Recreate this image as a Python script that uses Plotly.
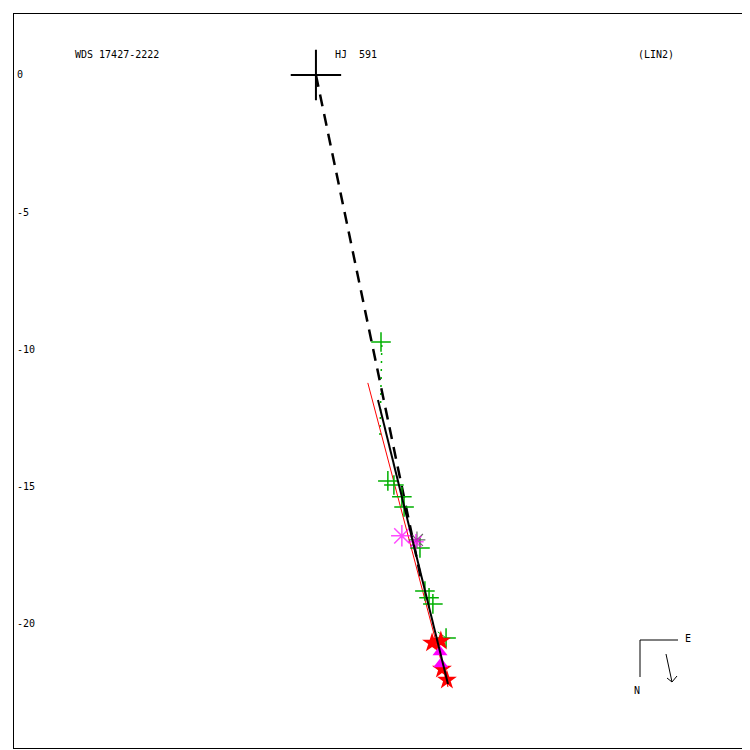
import plotly.graph_objects as go

# --- data (arcsec) ---
primary_x = [0.0]
primary_y = [0.0]

plus_x = [2.37, 2.62, 2.84, 3.13, 3.21, 3.79, 3.97, 4.12, 4.26, 4.74]
plus_y = [-9.73, -14.79, -14.94, -15.37, -15.74, -17.23, -18.80, -19.05, -19.27, -20.51]

ast_mag_x = [3.13, 3.64]
ast_mag_y = [-16.79, -17.01]
ast_grey_x = [3.68]
ast_grey_y = [-16.94]

star_x = [4.23, 4.55, 4.59, 4.77]
star_y = [-20.69, -20.62, -21.64, -22.04]

tri_x = [4.52, 4.55]
tri_y = [-21.02, -21.46]

fit_x = [2.26, 4.81]
fit_y = [-11.84, -22.19]
red_x = [1.89, 4.81]
red_y = [-11.22, -22.30]
dash_x = [0.0, 3.83]
dash_y = [0.0, -18.36]
res1_x = [2.40, 2.33]
res1_y = [-9.84, -13.30]
res2_x = [4.44, 4.74]
res2_y = [-20.29, -20.51]

yticks = [0, -5, -10, -15, -20]
ytick_labels = ["0", "-5", "-10", "-15", "-20"]

fig = go.Figure()
fig.add_trace(go.Scatter(x=res1_x, y=res1_y, mode="lines",
                         line=dict(color="#00b000", width=1.5, dash="2px,6px")))
fig.add_trace(go.Scatter(x=res2_x, y=res2_y, mode="lines",
                         line=dict(color="#00b000", width=1)))
fig.add_trace(go.Scatter(x=red_x, y=red_y, mode="lines",
                         line=dict(color="red", width=1)))
fig.add_trace(go.Scatter(x=dash_x, y=dash_y, mode="lines",
                         line=dict(color="black", width=2.5, dash="12px,8px")))
fig.add_trace(go.Scatter(x=plus_x, y=plus_y, mode="markers",
                         marker=dict(symbol="cross-thin", size=14,
                                     line=dict(color="#00b000", width=1.5))))
fig.add_trace(go.Scatter(x=ast_grey_x, y=ast_grey_y, mode="markers",
                         marker=dict(symbol="asterisk", size=14,
                                     line=dict(color="#666666", width=1.2))))
fig.add_trace(go.Scatter(x=ast_mag_x, y=ast_mag_y, mode="markers",
                         marker=dict(symbol="asterisk", size=[18, 13],
                                     line=dict(color="#ff00ff", width=1.5))))
fig.add_trace(go.Scatter(x=star_x, y=star_y, mode="markers",
                         marker=dict(symbol="star", size=15, color="red",
                                     line=dict(width=0))))
fig.add_trace(go.Scatter(x=tri_x, y=tri_y, mode="markers",
                         marker=dict(symbol="triangle-up", size=13, color="#ff00ff",
                                     line=dict(width=0))))
fig.add_trace(go.Scatter(x=fit_x, y=fit_y, mode="lines",
                         line=dict(color="black", width=2)))
fig.add_trace(go.Scatter(x=primary_x, y=primary_y, mode="markers",
                         marker=dict(symbol="cross-thin", size=36,
                                     line=dict(color="black", width=2))))

# page has an 8px body margin; plot frame spans window px 14..748
L, R = 14, 748

def P(px, py):
    return (px - L) / (R - L), 1 - (py - L) / (R - L)

mono = "DejaVu Sans Mono"
annots = [
    dict(x=73, y=55, text="WDS 17427-2222"),
    dict(x=333, y=55, text="HJ  591"),
    dict(x=636, y=55, text="(LIN2)"),
    dict(x=683, y=638, text="E"),
    dict(x=632, y=690, text="N"),
]
for a in annots:
    px, py = P(a["x"], a["y"])
    fig.add_annotation(x=px, y=py, xref="paper", yref="paper",
                       text=a["text"].replace(" ", "&nbsp;"), showarrow=False,
                       xanchor="left", yanchor="middle",
                       font=dict(family=mono, size=10, color="black"))

shapes = []
for (x0, y0, x1, y1) in [(640, 640, 678, 640), (640, 640, 640, 677),
                         (666, 654, 672, 682), (667, 678, 672, 682), (677, 676, 672, 682)]:
    a0 = P(x0, y0); a1 = P(x1, y1)
    shapes.append(dict(type="line", xref="paper", yref="paper",
                       x0=a0[0], y0=a0[1], x1=a1[0], y1=a1[1],
                       line=dict(color="black", width=1)))
fig.update_layout(shapes=shapes)

fig.update_layout(
    width=742, height=742,
    margin=dict(l=6, r=2, t=6, b=2, pad=0),
    paper_bgcolor="white", plot_bgcolor="white",
    showlegend=False,
    font=dict(family=mono, size=10, color="black"),
)
fig.update_xaxes(range=[-11.0, 15.74], showgrid=False, zeroline=False,
                 showticklabels=False, ticks="", showline=True, mirror=True,
                 linecolor="black", linewidth=1)
fig.update_yaxes(range=[-24.52, 2.22], showgrid=False, zeroline=False,
                 tickvals=yticks, ticktext=ytick_labels, ticks="",
                 ticklabelposition="inside", ticklabelstandoff=2,
                 showline=True, mirror=True,
                 linecolor="black", linewidth=1,
                 tickfont=dict(family=mono, size=10, color="black"))

fig.write_html("out.html")
